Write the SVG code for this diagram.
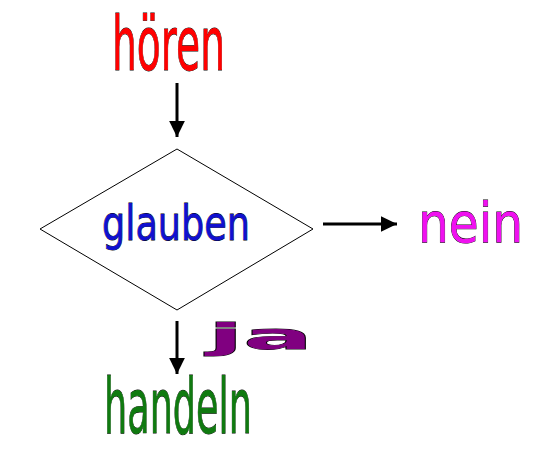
<svg xmlns="http://www.w3.org/2000/svg" width="541" height="464" viewBox="0 0 541 464">
<style>
.lbl{font-family:"DejaVu Sans",sans-serif;stroke:#000;stroke-width:0.8;paint-order:stroke}
.conn{stroke:#000;stroke-width:3;fill:none}
</style>
<defs>
<marker id="ah" markerWidth="6" markerHeight="6" refX="5.5" refY="3" orient="auto" markerUnits="strokeWidth">
<polygon points="0,0.3 5.5,3 0,5.7" fill="#000"/>
</marker>
</defs>
<rect width="541" height="464" fill="#fff"/>
<g id="connectors">
<line class="conn" x1="177" y1="83" x2="177" y2="137" marker-end="url(#ah)"/>
<line class="conn" x1="323" y1="224" x2="397" y2="224" marker-end="url(#ah)"/>
<line class="conn" x1="177" y1="321" x2="177" y2="374" marker-end="url(#ah)"/>
</g>
<g id="hoeren">
<text class="lbl" x="112" y="70" font-size="75" fill="#FF0000" textLength="113" lengthAdjust="spacingAndGlyphs">hören</text>
</g>
<g id="glauben">
<polygon points="177,149 313,229 177,310 40,229" fill="#fff" stroke="#000" stroke-width="1"/>
<text class="lbl" x="102" y="240" font-size="48" fill="#1010D0" textLength="148" lengthAdjust="spacingAndGlyphs">glauben</text>
</g>
<g id="nein">
<text class="lbl" x="418" y="242" font-size="55" fill="#F010F0" textLength="105" lengthAdjust="spacingAndGlyphs">nein</text>
</g>
<g id="ja">
<text class="lbl" x="208" y="349" font-size="36" font-weight="bold" fill="#800080" textLength="105" lengthAdjust="spacingAndGlyphs">ja</text>
</g>
<g id="handeln">
<text class="lbl" x="104" y="433" font-size="76" fill="#107A10" textLength="148" lengthAdjust="spacingAndGlyphs">handeln</text>
</g>
</svg>
